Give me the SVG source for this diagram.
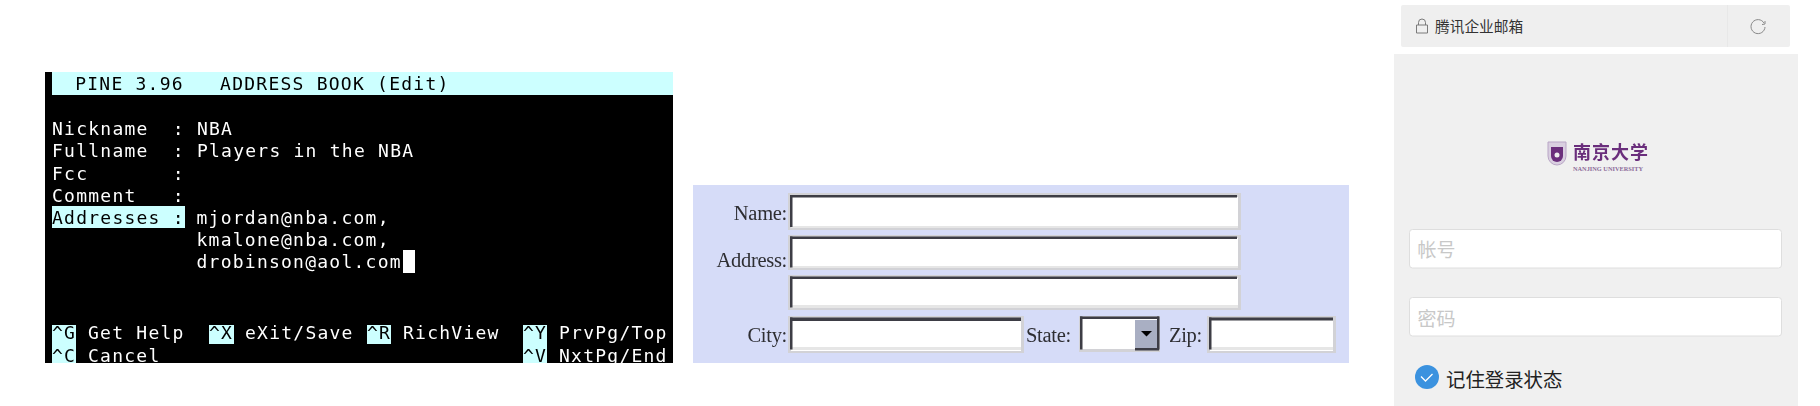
<svg xmlns="http://www.w3.org/2000/svg" width="1820" height="406" viewBox="0 0 1820 406">
<style>
.t{font-family:"DejaVu Sans Mono","Liberation Mono",monospace;font-size:18px;letter-spacing:1.24px;white-space:pre;fill:#fff}
.k{fill:#000}
.c{fill:#ccffff}
.f{font-family:"Liberation Serif","Times New Roman",serif;font-size:20.5px;letter-spacing:-0.3px;fill:#2e2e33}
.o{fill:#d2d2d6}
.d{fill:#3c3c44}
.w{fill:#fff}
.b{fill:#e6e6e6}
.cn{font-family:"Noto Sans CJK SC",sans-serif}
</style>
<defs>
<clipPath id="term"><rect x="45" y="72" width="628" height="291"/></clipPath>
<filter id="soft" x="-2%" y="-2%" width="104%" height="104%"><feGaussianBlur stdDeviation="0.65"/></filter>
<filter id="soft2" x="-5%" y="-5%" width="110%" height="110%"><feGaussianBlur stdDeviation="0.35"/></filter>
</defs>
<rect width="1820" height="406" fill="#fff"/>

<g id="terminal" clip-path="url(#term)">
<rect x="45" y="72" width="628" height="291" fill="#000"/>
<rect class="c" x="52" y="72" width="621" height="23"/>
<rect class="c" x="52" y="206" width="133" height="22"/>
<rect class="c" x="52" y="325" width="24" height="38"/>
<rect class="c" x="209" y="325" width="25" height="19"/>
<rect class="c" x="367" y="325" width="24" height="19"/>
<rect class="c" x="523" y="325" width="24" height="38"/>
<rect x="403" y="250" width="12" height="23" fill="#fff"/>
<g filter="url(#soft2)">
<text class="t k" x="51" y="90">  PINE 3.96   ADDRESS BOOK (Edit)</text>
<text class="t" x="52" y="135">Nickname  : NBA</text>
<text class="t" x="52" y="157">Fullname  : Players in the NBA</text>
<text class="t" x="52" y="180">Fcc       :</text>
<text class="t" x="52" y="202">Comment   :</text>
<text class="t k" x="52" y="224">Addresses :</text>
<text class="t" x="196.500" y="224">mjordan@nba.com,</text>
<text class="t" x="196.500" y="246">kmalone@nba.com,</text>
<text class="t" x="196.500" y="268">drobinson@aol.com</text>
<text class="t k" x="52" y="339">^G</text>
<text class="t" x="88" y="339">Get Help</text>
<text class="t k" x="209" y="339">^X</text>
<text class="t" x="245" y="339">eXit/Save</text>
<text class="t k" x="367" y="339">^R</text>
<text class="t" x="403" y="339">RichView</text>
<text class="t k" x="523" y="339">^Y</text>
<text class="t" x="559" y="339">PrvPg/Top</text>
<text class="t k" x="52" y="362">^C</text>
<text class="t" x="88" y="362">Cancel</text>
<text class="t k" x="523" y="362">^V</text>
<text class="t" x="559" y="362">NxtPg/End</text>
</g>
</g>

<g id="address-form">
<rect x="693" y="185" width="656" height="178" fill="#d6dcf8"/>
<g filter="url(#soft)">
<g id="input-name"><rect class="o" x="788" y="193" width="453" height="37"/><rect class="w" x="791" y="197" width="447" height="30"/><rect class="b" x="791" y="226" width="447" height="2"/><rect class="d" x="790" y="195" width="447" height="2.500"/><rect class="d" x="790" y="195" width="2.500" height="32"/></g>
<g id="input-address1"><rect class="o" x="788" y="235" width="453" height="35"/><rect class="w" x="791" y="238" width="447" height="30"/><rect class="b" x="791" y="266" width="447" height="2"/><rect class="d" x="790" y="236.500" width="447" height="2.500"/><rect class="d" x="790" y="236.500" width="2.500" height="31"/></g>
<g id="input-address2"><rect class="o" x="788" y="275" width="453" height="35"/><rect class="w" x="791" y="278" width="447" height="30"/><rect class="b" x="791" y="305" width="447" height="3"/><rect class="d" x="790" y="276.500" width="447" height="2.500"/><rect class="d" x="790" y="276.500" width="2.500" height="31"/></g>
<g id="input-city"><rect class="o" x="788" y="316" width="236" height="37"/><rect class="w" x="791" y="320" width="230" height="31"/><rect class="b" x="791" y="347" width="230" height="3"/><rect class="d" x="790" y="317.500" width="231" height="3.500"/><rect class="d" x="790" y="317.500" width="2.500" height="32"/></g>
<g id="select-state"><rect class="o" x="1079" y="316" width="81" height="36"/><rect class="w" x="1082" y="319" width="75" height="30"/><rect x="1135" y="320" width="23" height="28" fill="#a9afc3"/><path d="M1141 331h11l-5.500 5.500z" fill="#000"/><rect class="d" x="1080" y="316.500" width="79" height="2.500"/><rect class="d" x="1080" y="316.500" width="2.500" height="33"/><rect class="d" x="1157" y="316.500" width="2.500" height="33"/><rect class="d" x="1135" y="348" width="24" height="2.500"/></g>
<g id="input-zip"><rect class="o" x="1207" y="316" width="129" height="37"/><rect class="w" x="1210" y="320" width="123" height="31"/><rect class="b" x="1210" y="347" width="123" height="3"/><rect class="d" x="1209" y="317.500" width="124" height="3"/><rect class="d" x="1209" y="317.500" width="2.500" height="32"/></g>
<text class="f" x="787" y="220" text-anchor="end">Name:</text>
<text class="f" x="787" y="267" text-anchor="end">Address:</text>
<text class="f" x="787" y="342" text-anchor="end">City:</text>
<text class="f" x="1026" y="342">State:</text>
<text class="f" x="1169" y="342">Zip:</text>
</g>
</g>

<g id="login-panel">
<rect x="1401" y="5" width="389" height="42" rx="2" fill="#efefef"/>
<rect x="1727" y="5" width="1" height="42" fill="#e8e8e8"/>
<rect x="1394" y="54" width="404" height="352" fill="#f0f0f0"/>
<g id="toolbar">
<path d="M1416.500 25h11v8h-11zM1418.500 25v-2.500a3.500 3.500 0 0 1 7 0v2.500" fill="none" stroke="#7a7a7a" stroke-width="1"/>
<text class="cn" x="1435" y="32" font-size="14.700" fill="#333">腾讯企业邮箱</text>
<path d="M1764 23a7 7 0 1 0 1 4" fill="none" stroke="#888" stroke-width="1"/>
<path d="M1762 24.500l3-.500 0-3" fill="none" stroke="#888" stroke-width="1"/>
</g>
<g id="logo" fill="#6b2f7c">
<path d="M1548 142h18v14a9 9 0 0 1-18 0z" fill="#d9cfe0" stroke="#b9a6c6" stroke-width="1"/>
<path d="M1551 147h12v9a6 6 0 0 1-12 0z"/>
<circle cx="1557" cy="155" r="2.500" fill="#eee"/>
<text class="cn" x="1573" y="159" font-size="18" font-weight="700" letter-spacing="1" filter="url(#soft2)">南京大学</text>
<text x="1573" y="171" font-family="Liberation Serif,serif" font-size="5.500" font-weight="700" textLength="70" lengthAdjust="spacingAndGlyphs" fill="#8b6a99">NANJING UNIVERSITY</text>
</g>
<g id="input-account"><rect x="1409.500" y="229.500" width="372" height="38.500" rx="3" fill="#fff" stroke="#dedede"/>
<text class="cn" x="1417.500" y="256.500" font-size="19" fill="#c8c8c8">帐号</text></g>
<g id="input-password"><rect x="1409.500" y="297.500" width="372" height="38.500" rx="3" fill="#fff" stroke="#dedede"/>
<text class="cn" x="1417.500" y="325.500" font-size="19" fill="#c8c8c8">密码</text></g>
<g id="remember">
<circle cx="1427" cy="377" r="12" fill="#3b92df"/>
<path d="M1421 376.500l4.500 4.500 7-7" fill="none" stroke="#fff" stroke-width="1.300"/>
<text class="cn" x="1446" y="386.500" font-size="19.400" fill="#222">记住登录状态</text>
</g>
</g>
</svg>
